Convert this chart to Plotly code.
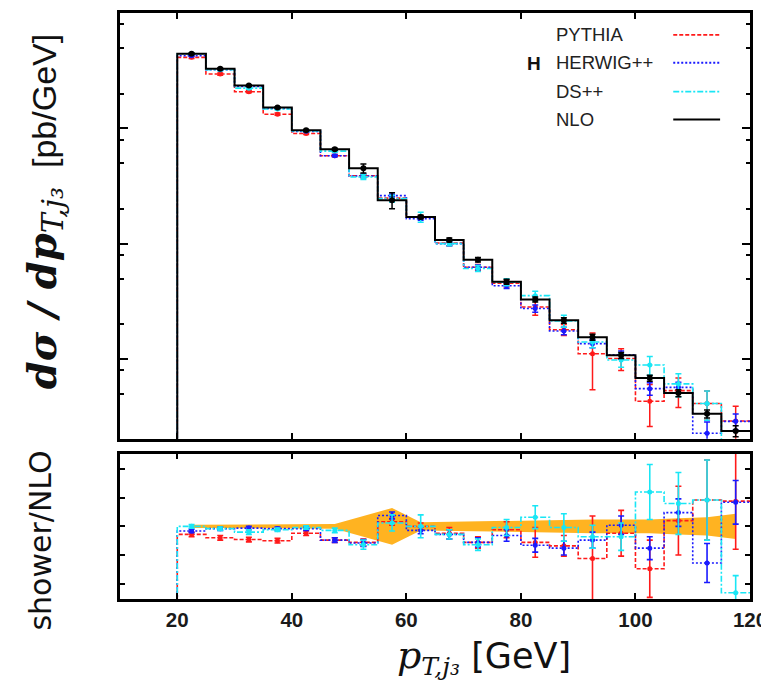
import plotly.graph_objects as go

# ---------------- data ----------------
bin_edges = [20, 25, 30, 35, 40, 45, 50, 55, 60, 65, 70, 75, 80, 85, 90, 95, 100, 105, 110, 115, 120]
bin_centers = [22.5, 27.5, 32.5, 37.5, 42.5, 47.5, 52.5, 57.5, 62.5, 67.5, 72.5, 77.5,
               82.5, 87.5, 92.5, 97.5, 102.5, 107.5, 112.5, 117.5]

# NLO distribution dsigma/dpT [pb/GeV]
nlo = [0.4436, 0.3289, 0.2350, 0.1517, 0.0962, 0.0659, 0.0452, 0.0239, 0.0171, 0.0108,
       0.00728, 0.00470, 0.00329, 0.00217, 0.00155, 0.00108, 0.000686, 0.000509, 0.000336, 0.000239]
# NLO relative uncertainty (orange band half-width in the ratio panel)
nlo_relerr = [0.015, 0.015, 0.015, 0.015, 0.015, 0.02, 0.09, 0.16, 0.035, 0.04,
              0.045, 0.05, 0.05, 0.055, 0.06, 0.06, 0.06, 0.07, 0.08, 0.11]

# shower / NLO ratios and their errors
pythia_ratio = [0.93, 0.90, 0.885, 0.875, 0.94, 0.88, 0.86, 1.04, 1.00, 0.94,
                0.86, 0.97, 0.86, 0.83, 0.72, 0.94, 0.63, 1.05, 1.23, 1.22]
pythia_err = [0.02, 0.02, 0.02, 0.02, 0.02, 0.02, 0.03, 0.03, 0.03, 0.05,
              0.05, 0.07, 0.13, 0.09, 0.37, 0.20, 0.25, 0.30, 0.35, 0.42]

herwig_ratio = [0.96, 0.98, 0.985, 0.98, 0.98, 0.88, 0.855, 1.095, 0.965, 0.93,
                0.86, 0.92, 0.835, 0.81, 0.88, 1.01, 0.81, 1.12, 0.68, 1.21]
herwig_err = [0.015, 0.015, 0.015, 0.015, 0.015, 0.02, 0.03, 0.03, 0.03, 0.04,
              0.04, 0.05, 0.06, 0.06, 0.07, 0.08, 0.10, 0.12, 0.17, 0.19]

ds_ratio = [1.00, 0.98, 0.95, 0.97, 0.99, 0.965, 0.84, 1.03, 1.00, 0.93,
            0.84, 0.99, 1.08, 0.99, 0.91, 0.91, 1.30, 1.20, 1.23, 0.42]
ds_err = [0.015, 0.015, 0.02, 0.015, 0.015, 0.02, 0.04, 0.07, 0.10, 0.04,
          0.05, 0.07, 0.10, 0.12, 0.10, 0.12, 0.24, 0.27, 0.35, 0.15]

x_tick_vals = [20, 40, 60, 80, 100, 120]
x_tick_text = ["20", "40", "60", "80", "100", "120"]

series = [
    ("PYTHIA", pythia_ratio, pythia_err, "#ff1a1a", "4px,2px"),
    ("HERWIG++", herwig_ratio, herwig_err, "#1a1aff", "2px,2px"),
    ("DS++", ds_ratio, ds_err, "#19e6f5", "6px,2px,2px,2px"),
]

# ---------------- geometry ----------------
# the page body has an 8px margin, so the figure starts at page pixel (8, 8)
OFF = 8
W, H = 769 - OFF, 686 - OFF
L, T = 120 - OFF, 10 - OFF
R = W - (752 - OFF)
B = H - (599 - OFF)


def px(x_page):
    return (x_page - OFF - L) / (W - L - R)


def py(y_page):
    return (H - B - (y_page - OFF)) / (H - T - B)


def step_xy(vals, floor):
    xs = [bin_edges[0]] + bin_edges[:-1] + [bin_edges[-1]]
    ys = [floor] + list(vals) + [vals[-1]]
    return xs, ys


fig = go.Figure()

# ---------------- top panel ----------------
for name, ratio, err, color, dash in series:
    vals = [r * n for r, n in zip(ratio, nlo)]
    errs = [e * n for e, n in zip(err, nlo)]
    sx, sy = step_xy(vals, 1e-6)
    fig.add_trace(go.Scatter(x=sx, y=sy, mode="lines", line=dict(color=color, width=1.6, dash=dash, shape="hv"),
                             xaxis="x", yaxis="y", showlegend=False, hoverinfo="skip"))
    fig.add_trace(go.Scatter(x=bin_centers, y=vals, mode="markers", marker=dict(color=color, size=5),
                             error_y=dict(type="data", array=errs, color=color, thickness=1.5, width=3),
                             xaxis="x", yaxis="y", showlegend=False, name=name))

nlo_err = [e * n for e, n in zip(nlo_relerr, nlo)]
sx, sy = step_xy(nlo, 1e-6)
fig.add_trace(go.Scatter(x=sx, y=sy, mode="lines", line=dict(color="black", width=2, shape="hv"),
                         xaxis="x", yaxis="y", showlegend=False, hoverinfo="skip"))
fig.add_trace(go.Scatter(x=bin_centers, y=nlo, mode="markers", marker=dict(color="black", size=6),
                         error_y=dict(type="data", array=nlo_err, color="black", thickness=1.5, width=3),
                         xaxis="x", yaxis="y", showlegend=False, name="NLO"))

# ---------------- bottom panel ----------------
band_hi = [1 + e for e in nlo_relerr]
band_lo = [1 - e for e in nlo_relerr]
fig.add_trace(go.Scatter(x=bin_centers, y=band_hi, mode="lines", line=dict(width=0, color="#ffb321"),
                         xaxis="x2", yaxis="y2", showlegend=False, hoverinfo="skip"))
fig.add_trace(go.Scatter(x=bin_centers, y=band_lo, mode="lines", line=dict(width=0, color="#ffb321"),
                         fill="tonexty", fillcolor="#ffb321",
                         xaxis="x2", yaxis="y2", showlegend=False, hoverinfo="skip"))

for name, ratio, err, color, dash in series:
    sx, sy = step_xy(ratio, 0.0)
    fig.add_trace(go.Scatter(x=sx, y=sy, mode="lines", line=dict(color=color, width=1.6, dash=dash, shape="hv"),
                             xaxis="x2", yaxis="y2", showlegend=False, hoverinfo="skip"))
    fig.add_trace(go.Scatter(x=bin_centers, y=ratio, mode="markers", marker=dict(color=color, size=5),
                             error_y=dict(type="data", array=err, color=color, thickness=1.6, width=3),
                             xaxis="x2", yaxis="y2", showlegend=False, name=name))

# ---------------- axes ----------------
axis_common = dict(showline=True, linecolor="black", linewidth=2.5, mirror="ticks",
                   ticks="inside", tickcolor="black", showgrid=False, zeroline=False)

top_dom = [py(438), 1.0]
bot_dom = [0.0, py(453)]

minor_vals = []
for k in [1e-4, 1e-3, 1e-2, 1e-1]:
    for m in (2, 5, 8):
        minor_vals.append(m * k)

fig.update_layout(
    width=W, height=H,
    margin=dict(l=L, r=R, t=T, b=B),
    paper_bgcolor="white", plot_bgcolor="white",
    xaxis=dict(domain=[0, 1], range=[10, 120], anchor="y", tickmode="array", tickvals=x_tick_vals,
               showticklabels=False, ticklen=6, tickwidth=2, **axis_common),
    yaxis=dict(domain=top_dom, type="log", range=[-3.69, 0], anchor="x", tickmode="array",
               tickvals=[1e-3, 1e-2, 1e-1, 1], showticklabels=False, ticklen=8, tickwidth=2,
               minor=dict(tickmode="array", tickvals=minor_vals, ticks="inside", ticklen=4, tickwidth=1.5,
                          tickcolor="black", showgrid=False),
               **axis_common),
    xaxis2=dict(domain=[0, 1], range=[10, 120], anchor="y2", tickmode="array", tickvals=x_tick_vals,
                ticktext=x_tick_text, ticklen=6, tickwidth=2, ticklabelstandoff=1,
                ticklabeloverflow="allow",
                tickfont=dict(family="Liberation Sans", size=20.5, color="#1a1a1a", weight="bold"),
                **axis_common),
    yaxis2=dict(domain=bot_dom, range=[0.366, 1.634], anchor="x2", tickmode="array",
                tickvals=[0.5, 0.75, 1.0, 1.25, 1.5], showticklabels=False, ticklen=5, tickwidth=2,
                **axis_common),
    showlegend=False,
)

# ---------------- titles ----------------
MATH = "font-family:'DejaVu Serif'"
annotations = []
annotations.append(dict(
    xref="paper", yref="paper", x=px(485), y=py(657), xanchor="center", yanchor="middle", showarrow=False,
    text=(f'<span style="{MATH};font-size:38px"><i>p</i></span>'
          f'<sub><span style="{MATH};font-size:25px"><i>T,j₃</i></span></sub>'
          ' [GeV]'),
    font=dict(family="DejaVu Sans", size=35, color="#111")))
annotations.append(dict(
    xref="paper", yref="paper", x=px(44), y=py(210), xanchor="center", yanchor="middle", showarrow=False,
    textangle=-90,
    text=(f'<span style="{MATH};font-size:40px"><b><i>dσ / dp</i></b></span>'
          f'<sub><span style="{MATH};font-size:30px"><i>T,j₃</i></span></sub>'
          '  [pb/GeV]'),
    font=dict(family="Liberation Sans", size=34, color="#111")))
annotations.append(dict(
    xref="paper", yref="paper", x=px(40), y=py(540), xanchor="center", yanchor="middle", showarrow=False,
    textangle=-90, text="shower/NLO",
    font=dict(family="DejaVu Sans", size=30, color="#111")))

# ---------------- manual legend (text left, line sample right) ----------------
legend_rows = [("PYTHIA", "#ff1a1a", "4px,2px", 32),
               ("HERWIG++", "#1a1aff", "2px,2px", 60),
               ("DS++", "#19e6f5", "6px,2px,2px,2px", 89),
               ("NLO", "black", "solid", 117)]
shapes = []
for label, color, dash, yy in legend_rows:
    annotations.append(dict(xref="paper", yref="paper", x=px(555), y=py(yy), xanchor="left", yanchor="middle",
                            showarrow=False, text=label,
                            font=dict(family="Liberation Sans", size=18.5, color="#222")))
    shapes.append(dict(type="line", xref="paper", yref="paper", x0=px(675), x1=px(722), y0=py(yy), y1=py(yy),
                       line=dict(color=color, width=2 if color == "black" else 1.8, dash=dash)))
annotations.append(dict(xref="paper", yref="paper", x=px(535), y=py(61), xanchor="center", yanchor="middle",
                        showarrow=False, text="<b>H</b>",
                        font=dict(family="Liberation Sans", size=19, color="#111")))

fig.update_layout(annotations=annotations, shapes=shapes)

fig.write_html("out.html")
